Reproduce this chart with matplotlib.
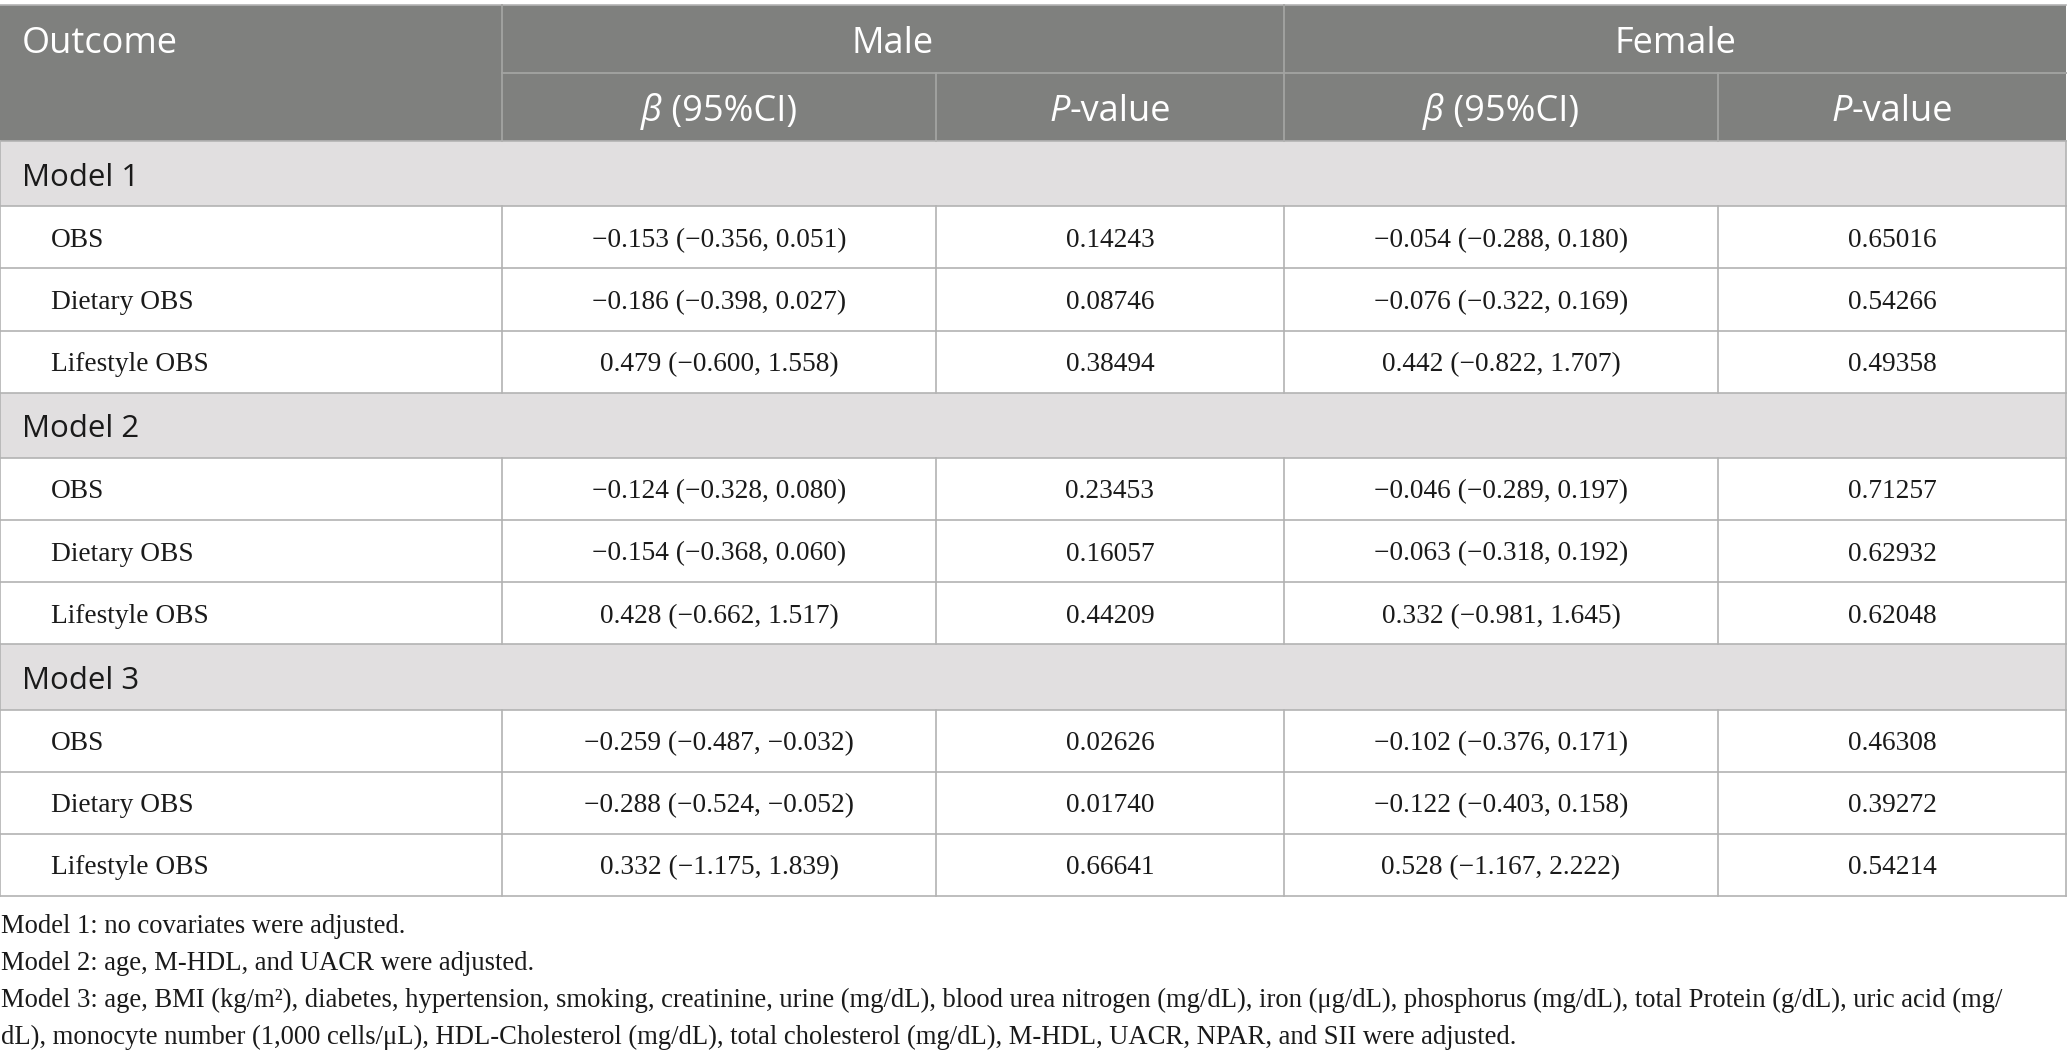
import matplotlib
matplotlib.use("Agg")
import matplotlib.pyplot as plt
from matplotlib.patches import Rectangle


# Données du tableau
groups = ["Model 1", "Model 2", "Model 3"]
outcomes = ["OBS", "Dietary OBS", "Lifestyle OBS"]

male_beta = [-0.153, -0.186, 0.479, -0.124, -0.154, 0.428, -0.259, -0.288, 0.332]
male_lo = [-0.356, -0.398, -0.600, -0.328, -0.368, -0.662, -0.487, -0.524, -1.175]
male_hi = [0.051, 0.027, 1.558, 0.080, 0.060, 1.517, -0.032, -0.052, 1.839]
male_p = [0.14243, 0.08746, 0.38494, 0.23453, 0.16057, 0.44209, 0.02626, 0.01740, 0.66641]

female_beta = [-0.054, -0.076, 0.442, -0.046, -0.063, 0.332, -0.102, -0.122, 0.528]
female_lo = [-0.288, -0.322, -0.822, -0.289, -0.318, -0.981, -0.376, -0.403, -1.167]
female_hi = [0.180, 0.169, 1.707, 0.197, 0.192, 1.645, 0.171, 0.158, 2.222]
female_p = [0.65016, 0.54266, 0.49358, 0.71257, 0.62932, 0.62048, 0.46308, 0.39272, 0.54214]

footnotes = [
    "Model 1: no covariates were adjusted.",
    "Model 2: age, M-HDL, and UACR were adjusted.",
    "Model 3: age, BMI (kg/m\u00b2), diabetes, hypertension, smoking, creatinine, urine (mg/dL), "
    "blood urea nitrogen (mg/dL), iron (\u03bcg/dL), phosphorus (mg/dL), total Protein (g/dL), uric acid (mg/",
    "dL), monocyte number (1,000 cells/\u03bcL), HDL-Cholesterol (mg/dL), total cholesterol (mg/dL), "
    "M-HDL, UACR, NPAR, and SII were adjusted.",
]


def fmt(v, nd=3):
    s = f"{abs(v):.{nd}f}"
    return ("\u2212" + s) if v < 0 else s


# Mise en page (pixels)
W, H = 2067, 1062
col_x = [0, 502, 936, 1284, 1718, 2066]
top = 4.5
head_mid = 72.5
head_bot = 141
band_h = 65.3
row_h = 62.1

header_bg = "#7f807e"
header_line = "#a3a4a2"
band_bg = "#e1dfe0"
grid = "#b3b3b3"
text_col = "#1a1a1a"

sans = "Open Sans"
serif = "Liberation Serif"
data_fs = 19.7
head_fs = 26
band_fs = 22.5
foot_fs = 19.2

fig = plt.figure(figsize=(W / 100, H / 100), dpi=100)
ax = fig.add_axes([0, 0, 1, 1])
ax.set_xlim(0, W)
ax.set_ylim(H, 0)
ax.axis("off")

renderer = fig.canvas.get_renderer()


def runs_text(xc, y, runs, **kw):
    # plusieurs morceaux de texte (italique / normal) sur une même ligne, centrés
    objs = []
    for txt, style in runs:
        t = ax.text(0, y, txt, style=style, va="baseline", ha="left", **kw)
        objs.append(t)
    widths = [t.get_window_extent(renderer).width for t in objs]
    x = xc - sum(widths) / 2
    for t, w in zip(objs, widths):
        t.set_x(x)
        x += w


# En-tête
ax.add_patch(Rectangle((0, top), W - 1, head_bot - top, color=header_bg, lw=0))
ax.plot([0, W - 1], [top, top], color=grid, lw=1.2)
ax.plot([col_x[1], W - 1], [head_mid, head_mid], color=header_line, lw=1.3)
for x in [col_x[1], col_x[3]]:
    ax.plot([x, x], [top, head_bot], color=header_line, lw=1.3)
for x in [col_x[2], col_x[4]]:
    ax.plot([x, x], [head_mid, head_bot], color=header_line, lw=1.3)

c1 = (top + head_mid) / 2 + 14.5
c2 = (head_mid + head_bot) / 2 + 14.5
ax.text(22, c1, "Outcome", color="white", fontsize=head_fs, family=sans, va="baseline")
ax.text((col_x[1] + col_x[3]) / 2, c1, "Male", color="white", fontsize=head_fs,
        family=sans, va="baseline", ha="center")
ax.text((col_x[3] + col_x[5]) / 2, c1, "Female", color="white", fontsize=head_fs,
        family=sans, va="baseline", ha="center")
for i in range(4):
    xc = (col_x[i + 1] + col_x[i + 2]) / 2
    if i % 2 == 0:
        runs = [("\u03b2", "italic"), (" (95%CI)", "normal")]
    else:
        runs = [("P", "italic"), ("-value", "normal")]
    runs_text(xc, c2, runs, color="white", fontsize=head_fs, family=sans)

# Corps du tableau
y = head_bot
for g, group in enumerate(groups):
    ax.add_patch(Rectangle((0, y), W - 1, band_h, color=band_bg, lw=0))
    ax.text(22, y + band_h / 2 + 12, group, color=text_col, fontsize=band_fs,
            family=sans, va="baseline")
    ax.plot([0, W - 1], [y, y], color=grid, lw=1.2)
    ax.plot([0, 0], [y, y + band_h], color=grid, lw=1.2)
    ax.plot([W - 1.5, W - 1.5], [y, y + band_h], color=grid, lw=1.2)
    y += band_h
    for o, outcome in enumerate(outcomes):
        k = g * 3 + o
        ax.plot([0, W - 1], [y, y], color=grid, lw=1.2)
        for x in col_x[:-1] + [W - 1.5]:
            ax.plot([x, x], [y, y + row_h], color=grid, lw=1.2)
        base = y + row_h / 2 + 9.5
        ax.text(51, base, outcome, color=text_col, fontsize=data_fs, family=serif,
                va="baseline")
        cells = [
            f"{fmt(male_beta[k])} ({fmt(male_lo[k])}, {fmt(male_hi[k])})",
            f"{male_p[k]:.5f}",
            f"{fmt(female_beta[k])} ({fmt(female_lo[k])}, {fmt(female_hi[k])})",
            f"{female_p[k]:.5f}",
        ]
        for c, cell in enumerate(cells):
            xc = (col_x[c + 1] + col_x[c + 2]) / 2
            ax.text(xc, base, cell, color=text_col, fontsize=data_fs, family=serif,
                    va="baseline", ha="center")
        y += row_h
ax.plot([0, W - 1], [y, y], color=grid, lw=1.2)

# Notes
fy = 933
for line in footnotes:
    ax.text(1, fy, line, color=text_col, fontsize=foot_fs, family=serif, va="baseline")
    fy += 37

fig.savefig("out.png", dpi=100)
plt.close(fig)
